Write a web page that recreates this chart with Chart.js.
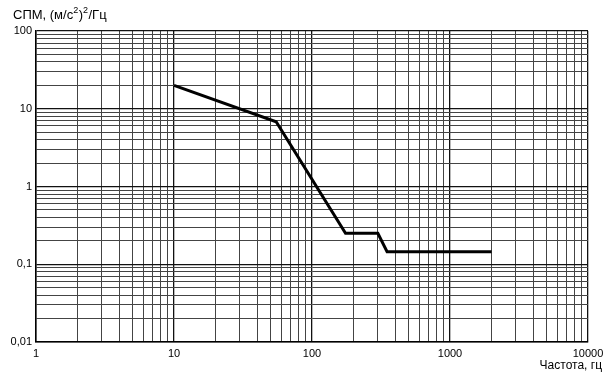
<!DOCTYPE html>
<html><head><meta charset="utf-8">
<script src="https://cdn.jsdelivr.net/npm/chart.js@4/dist/chart.umd.min.js"></script>
<style>html,body{margin:0;padding:0;background:#fff}#w{width:611px;height:379px;position:relative}</style>
</head><body><div id="w"><canvas id="c" width="611" height="379"></canvas></div>
<script>
const freq = [10, 55, 175, 300, 350, 2000];
const psd = [20, 6.8, 0.25, 0.25, 0.145, 0.145];
const xTickLabels = {1:'1', 10:'10', 100:'100', 1000:'1000', 10000:'10000'};
const yTickLabels = {0.01:'0,01', 0.1:'0,1', 1:'1', 10:'10', 100:'100'};
// y-axis title split into normal / superscript parts: СПМ, (м/с²)²/Гц
const yTitleParts = [['СПМ, (м/с', false], ['2', true], [')', false], ['2', true], ['/Гц', false]];
const xTitle = 'Частота, гц';

function logTicks(min, max){
  const t=[];
  for(let e=Math.round(Math.log10(min)); e<Math.round(Math.log10(max)); e++){
    for(let m=1;m<10;m++) t.push({value: +(m*Math.pow(10,e)).toPrecision(6)});
  }
  t.push({value:max});
  return t;
}
function isDecade(v){const l=Math.log10(v);return Math.abs(l-Math.round(l))<1e-9;}
const FAM = 'Liberation Sans, Arial, sans-serif';
const font = {family:FAM, size:11};

const titles = {
  id:'titles',
  afterDraw(chart){
    const ctx=chart.ctx; ctx.save();
    ctx.fillStyle='#000';
    ctx.textBaseline='alphabetic'; ctx.textAlign='left';
    let x=13; const base=19;
    for(const [t,sup] of yTitleParts){
      ctx.font=(sup?'9px ':'13px ')+FAM;
      ctx.fillText(t, x, sup?base-6:base);
      x+=ctx.measureText(t).width+(sup?0.5:0);
    }
    ctx.font='12px '+FAM;
    ctx.textBaseline='middle'; ctx.textAlign='right';
    ctx.fillText(xTitle, 602, 366);
    ctx.restore();
  }
};

new Chart(document.getElementById('c'), {
  type:'line',
  data:{datasets:[{data:freq.map((f,i)=>({x:f,y:psd[i]})), borderColor:'#000', borderWidth:3, pointRadius:0, tension:0, fill:false}]},
  options:{
    responsive:false, animation:false,
    layout:{padding:{left:0, top:31, right:23, bottom:0}},
    plugins:{legend:{display:false}, tooltip:{enabled:false}},
    scales:{
      x:{type:'logarithmic', min:1, max:10000,
        afterBuildTicks:s=>{s.ticks=logTicks(1,10000);},
        afterFit:s=>{s.height=37;},
        grid:{color:c=>isDecade(c.tick.value)?'#111':'#444', lineWidth:c=>isDecade(c.tick.value)?1.3:1, drawTicks:false},
        border:{color:'#000', width:1.5},
        ticks:{autoSkip:false, maxRotation:0, padding:5, color:'#000', font, callback:v=>xTickLabels[v]!==undefined?xTickLabels[v]:''}
      },
      y:{type:'logarithmic', min:0.01, max:100,
        afterBuildTicks:s=>{s.ticks=logTicks(0.01,100);},
        afterFit:s=>{s.width=36;},
        grid:{color:c=>isDecade(c.tick.value)?'#111':'#444', lineWidth:c=>isDecade(c.tick.value)?1.3:1, drawTicks:false},
        border:{color:'#000', width:1.5},
        ticks:{autoSkip:false, padding:4, color:'#000', font, callback:v=>{for(const k in yTickLabels){if(Math.abs(+k-v)<1e-9*Math.max(1,v))return yTickLabels[k];}return '';}}
      }
    }
  },
  plugins:[titles]
});
</script></body></html>
